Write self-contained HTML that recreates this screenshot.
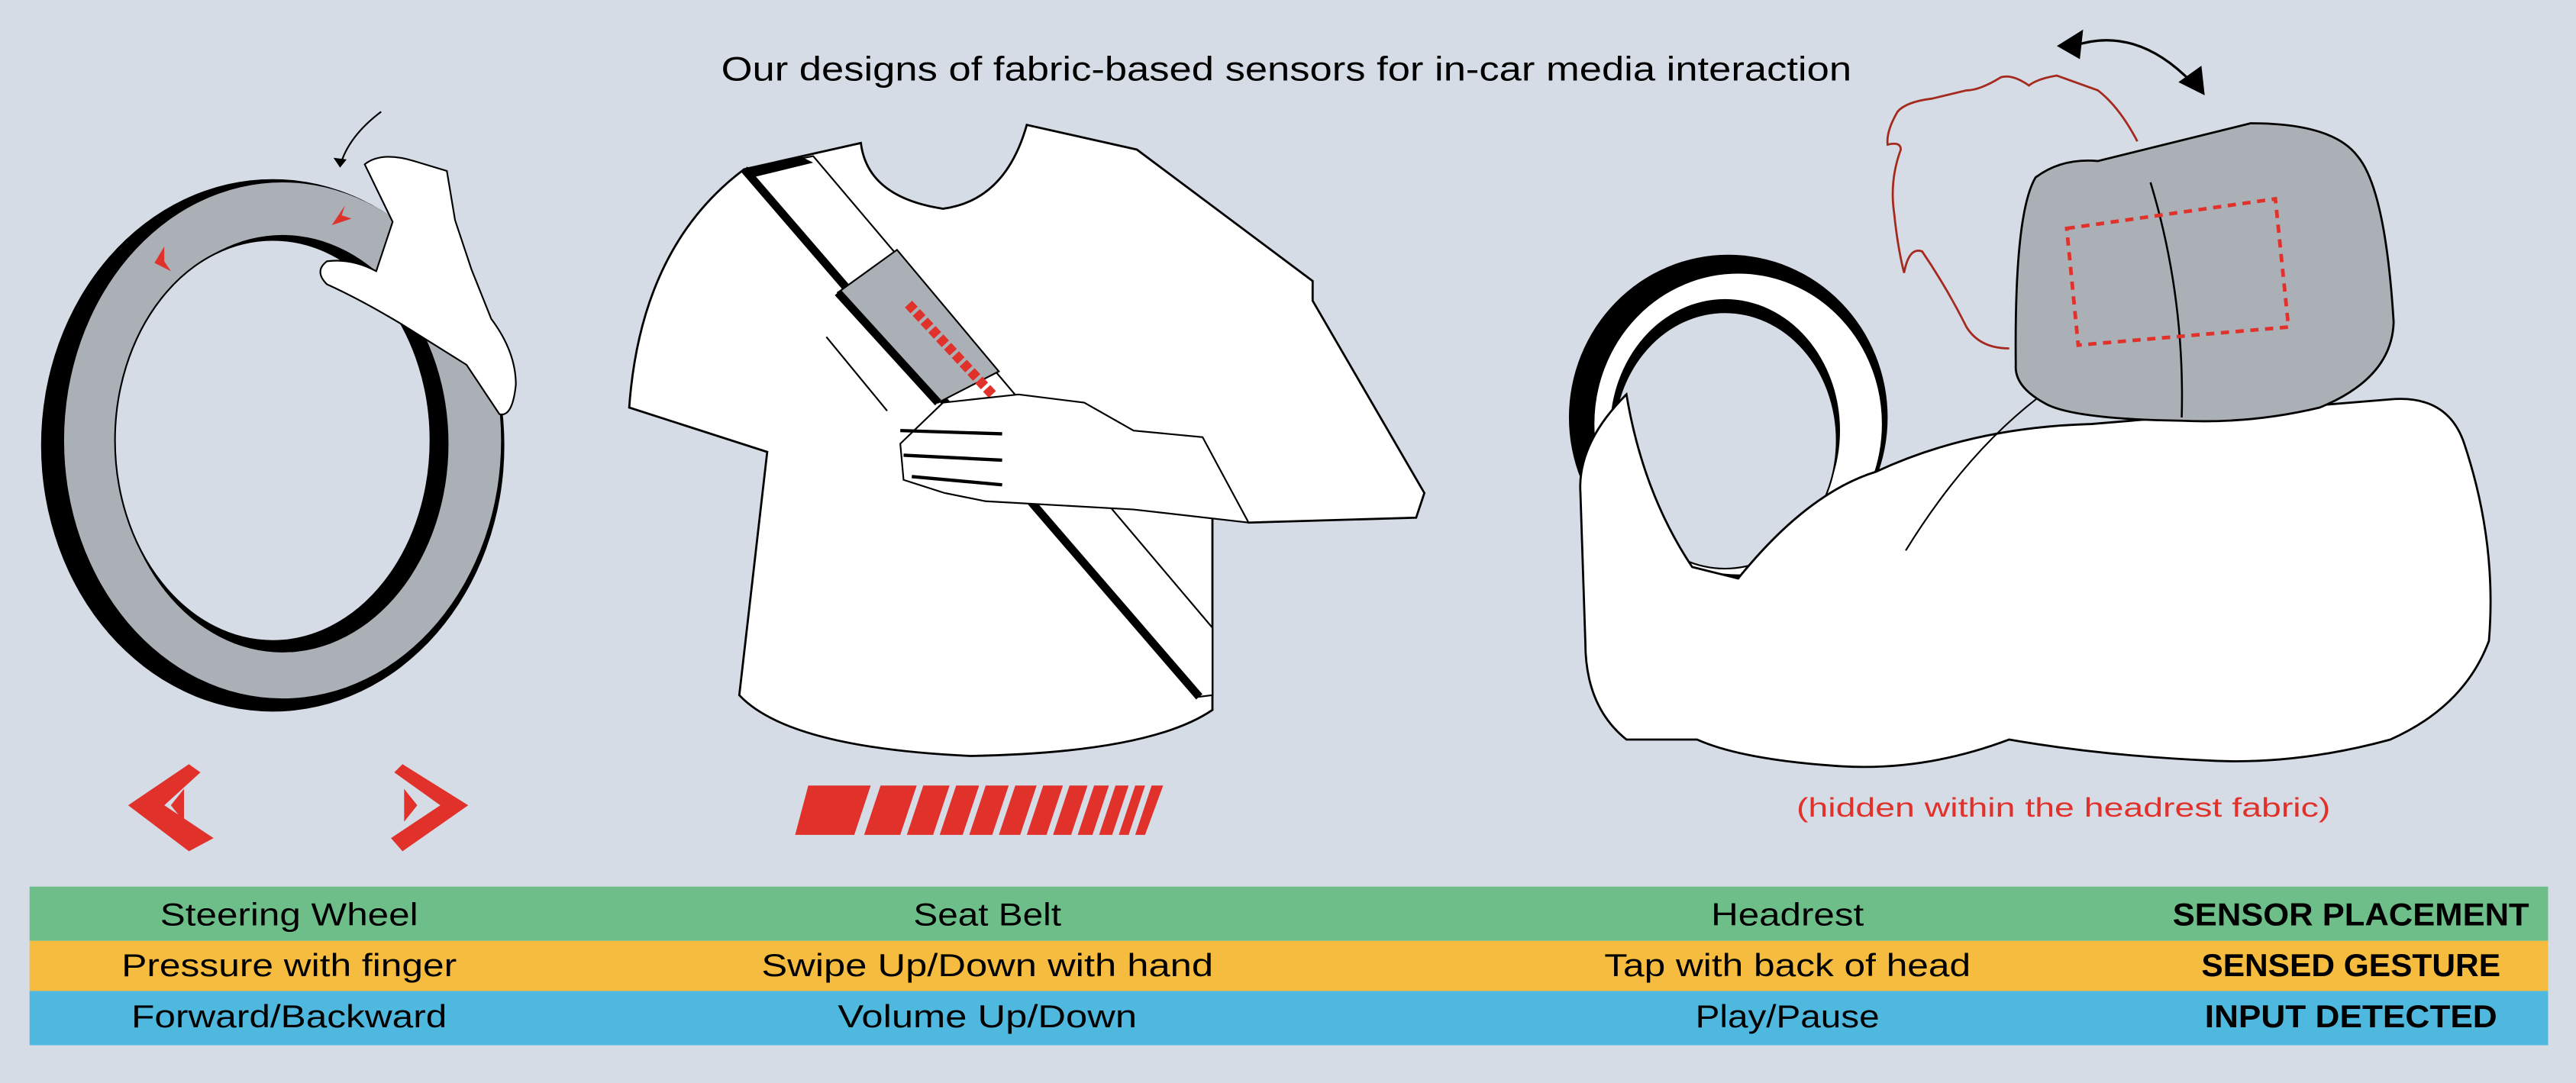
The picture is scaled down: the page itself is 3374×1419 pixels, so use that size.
<!DOCTYPE html>
<html><head><meta charset="utf-8"><style>
html,body{margin:0;padding:0;background:#d5dce6;}
svg{display:block;}
text{font-family:"Liberation Sans",sans-serif;}
</style></head><body>
<svg width="3374" height="1419" viewBox="0 0 1568 659" preserveAspectRatio="none">
<rect x="0" y="0" width="1568" height="659" fill="#d5dce6"/>
<text x="783" y="49" font-size="20.5" text-anchor="middle" textLength="688" lengthAdjust="spacingAndGlyphs">Our designs of fabric-based sensors for in-car media interaction</text>

<g>
<ellipse cx="166" cy="271" rx="141" ry="162" fill="#000"/>
<ellipse cx="172" cy="268" rx="133" ry="157" fill="#abb0b7"/>
<ellipse cx="172" cy="270" rx="101" ry="127" fill="#000"/>
<ellipse cx="166" cy="268" rx="96" ry="122" fill="#d5dce6" stroke="#000" stroke-width="1"/>
<path d="M100 150 l-6 10 l10 5 l-4 -6 z" fill="#e0312b"/>
<path d="M210 125 l-8 12 l12 -4 l-6 -2 z" fill="#e0312b"/>
<path d="M222 100 q10 -8 30 -2 l20 6 l5 30 l10 30 l12 30 q15 20 15 40 q-2 20 -10 18 l-20 -30 l-40 -25 q-25 -15 -45 -24 q-8 -8 0 -14 q15 -2 30 6 l10 -30 z" fill="#fff" stroke="#000" stroke-width="1"/>
<path d="M232 68 q-20 15 -25 33" fill="none" stroke="#000" stroke-width="1"/>
<path d="M203 96 l4 6 l4 -5 z" fill="#000"/>
</g>
<path d="M115 465 L78 490 L115 518 L130 510 L100 490 L122 470 Z M112 480 L104 490 L112 500 Z" fill="#e0312b"/>
<path d="M245 465 L285 490 L245 518 L238 510 L268 490 L240 470 Z M246 480 L254 490 L246 500 Z" fill="#e0312b"/>

<g>
<path d="M453 103 L524 87 Q528 120 574 127 Q612 122 625 76 L692 91 L799 171 L799 183 L867 300 L862 315 L760 318 L738 305 L738 432 Q700 458 591 460 Q480 455 450 423 L467 275 L383 248 Q390 150 453 103 Z" fill="#fff" stroke="#000" stroke-width="1.3"/>
<path d="M453 103 L495 95 L738 382 L738 423 L730 424 Z" fill="#fff" stroke="#000" stroke-width="1"/>
<path d="M453 103 L730 424" stroke="#000" stroke-width="5"/>
<path d="M453 103 L487 95 L495 99 L458 108 Z" fill="#000"/>
<path d="M510 178 L546 152 L608 226 L571 245 Z" fill="#abb0b7" stroke="#000" stroke-width="1"/>
<path d="M510 178 L571 245" stroke="#000" stroke-width="5"/>
<path d="M553 185 L604 240" stroke="#e0312b" stroke-width="6" stroke-dasharray="5 2"/>
<path d="M574 245 L620 240 L660 245 L690 262 L732 266 L760 318 L690 310 L600 305 L575 300 L550 292 L548 270 Z" fill="#fff" stroke="#000" stroke-width="1"/>
<path d="M548 262 L610 264 M550 277 L610 280 M555 290 L610 295" stroke="#000" stroke-width="2"/>
<path d="M503 205 L540 250" stroke="#000" stroke-width="1"/>
</g>
<g fill="#e0312b">
<path d="M492 478 L530 478 L520 508 L484 508 Z"/>
<path d="M536 478 L558 478 L548 508 L526 508 Z"/>
<path d="M562 478 L578 478 L568 508 L552 508 Z"/>
<path d="M582 478 L596 478 L586 508 L572 508 Z"/>
<path d="M600 478 L614 478 L604 508 L590 508 Z"/>
<path d="M618 478 L631 478 L621 508 L608 508 Z"/>
<path d="M635 478 L647 478 L637 508 L625 508 Z"/>
<path d="M651 478 L662 478 L652 508 L641 508 Z"/>
<path d="M666 478 L675 478 L665 508 L656 508 Z"/>
<path d="M679 478 L687 478 L677 508 L669 508 Z"/>
<path d="M691 478 L697 478 L687 508 L681 508 Z"/>
<path d="M701 478 L708 478 L697 508 L691 508 Z"/>
</g>

<g>
<ellipse cx="1052" cy="254" rx="97" ry="99" fill="#000"/>
<ellipse cx="1058" cy="258" rx="88" ry="92" fill="#fff" stroke="#000" stroke-width="1"/>
<ellipse cx="1050" cy="262" rx="70" ry="80" fill="#000"/>
<ellipse cx="1050" cy="268" rx="68" ry="78" fill="#d5dce6" stroke="#000" stroke-width="1"/>
<path d="M1058 352 Q1100 300 1142 287 Q1200 260 1273 258 L1455 243 Q1490 240 1500 270 Q1520 330 1515 390 Q1500 430 1455 450 Q1400 465 1349 463 Q1280 460 1223 450 Q1170 470 1117 466 Q1060 462 1033 450 L990 450 Q965 430 965 391 L962 300 Q960 270 990 240 Q1000 300 1030 345 Z" fill="#fff" stroke="#000" stroke-width="1.3"/>
<path d="M1160 335 Q1200 270 1250 235 L1310 240" fill="none" stroke="#000" stroke-width="1"/>
<path d="M1227 222 Q1226 130 1239 108 Q1255 96 1277 98 L1370 75 Q1420 75 1435 95 Q1452 115 1457 196 Q1456 230 1412 248 Q1370 258 1328 256 Q1260 255 1244 245 Q1226 235 1227 222 Z" fill="#abb0b7" stroke="#000" stroke-width="1.3"/>
<path d="M1309 111 Q1330 180 1328 254" fill="none" stroke="#000" stroke-width="1.2"/>
<path d="M1258 139 L1385 121 L1393 199 L1265 210 Z" fill="none" stroke="#e0312b" stroke-width="2.2" stroke-dasharray="5 4"/>
<path d="M1301 86 Q1290 65 1277 55 L1252 46 Q1240 48 1235 52 Q1225 45 1218 47 Q1205 55 1197 55 L1176 60 Q1160 62 1155 68 Q1148 80 1149 88 Q1157 86 1157 91 Q1150 110 1153 130 Q1155 150 1159 166 Q1162 150 1170 153 Q1185 175 1197 199 Q1205 212 1223 212" fill="none" stroke="#a52a1e" stroke-width="1.3"/>
<path d="M1262 28 Q1300 15 1334 50" fill="none" stroke="#000" stroke-width="1.5"/>
<path d="M1252 28 L1268 18 L1266 36 Z M1342 58 L1326 50 L1340 40 Z" fill="#000"/>
</g>
<text x="1256" y="497" font-size="16.5" fill="#e0312b" text-anchor="middle" textLength="325" lengthAdjust="spacingAndGlyphs">(hidden within the headrest fabric)</text>

<g>
<rect x="18" y="539.5" width="1533" height="33" fill="#6dbe89"/>
<rect x="18" y="572.5" width="1533" height="30.5" fill="#f6bc3f"/>
<rect x="18" y="603" width="1533" height="33" fill="#4fb8de"/>
<g font-size="19.5" text-anchor="middle">
<text x="176" y="563" textLength="157" lengthAdjust="spacingAndGlyphs">Steering Wheel</text>
<text x="601" y="563" textLength="90" lengthAdjust="spacingAndGlyphs">Seat Belt</text>
<text x="1088" y="563" textLength="93" lengthAdjust="spacingAndGlyphs">Headrest</text>
<text x="1431" y="563" font-weight="bold" textLength="217" lengthAdjust="spacingAndGlyphs">SENSOR PLACEMENT</text>
<text x="176" y="594" textLength="204" lengthAdjust="spacingAndGlyphs">Pressure with finger</text>
<text x="601" y="594" textLength="275" lengthAdjust="spacingAndGlyphs">Swipe Up/Down with hand</text>
<text x="1088" y="594" textLength="223" lengthAdjust="spacingAndGlyphs">Tap with back of head</text>
<text x="1431" y="594" font-weight="bold" textLength="182" lengthAdjust="spacingAndGlyphs">SENSED GESTURE</text>
<text x="176" y="625" textLength="192" lengthAdjust="spacingAndGlyphs">Forward/Backward</text>
<text x="601" y="625" textLength="182" lengthAdjust="spacingAndGlyphs">Volume Up/Down</text>
<text x="1088" y="625" textLength="112" lengthAdjust="spacingAndGlyphs">Play/Pause</text>
<text x="1431" y="625" font-weight="bold" textLength="178" lengthAdjust="spacingAndGlyphs">INPUT DETECTED</text>
</g>
</g>
</svg>
</body></html>
